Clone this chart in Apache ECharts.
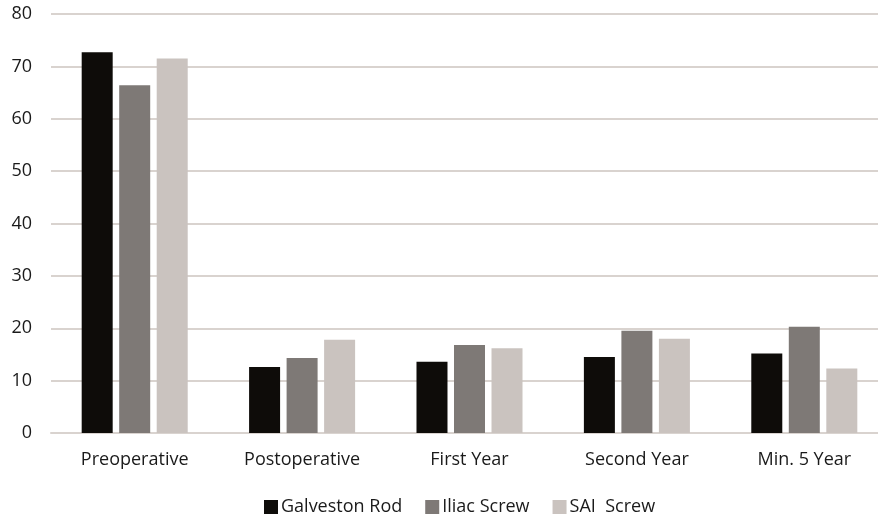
<!DOCTYPE html>
<html>
<head>
<meta charset="utf-8">
<script src="https://cdn.jsdelivr.net/npm/echarts@6/dist/echarts.min.js"></script>
<style>
  html, body { margin: 0; padding: 0; background: #ffffff; overflow: hidden; }
  #chart { width: 888px; height: 518px; }
</style>
</head>
<body>
<div id="chart"></div>
<script>
// Time points along the x axis
const categories = ['Preoperative', 'Postoperative', 'First Year', 'Second Year', 'Min. 5 Year'];

// Values per fixation group
const galvestonRod = [72.7, 12.6, 13.6, 14.5, 15.2];
const iliacScrew   = [66.4, 14.3, 16.8, 19.5, 20.3];
const saiScrew     = [71.5, 17.8, 16.2, 18.0, 12.3];

const seriesNames = ['Galveston Rod', 'Iliac Screw', 'SAI  Screw'];
const seriesColors = ['#0e0c09', '#7e7976', '#cac3bf'];

const FONT = '"Open Sans", "Liberation Sans", sans-serif';
const TEXT_COLOR = '#1a1a1a';

const chart = echarts.init(document.getElementById('chart'), null, { renderer: 'canvas' });

const dataSets = [galvestonRod, iliacScrew, saiScrew];

chart.setOption({
  animation: false,
  backgroundColor: '#ffffff',
  grid: { left: 51, top: 14, right: 0, bottom: 85, containLabel: false },
  legend: {
    top: 493,
    left: 259,
    itemWidth: 14,
    itemHeight: 14,
    itemGap: 23,
    icon: 'rect',
    textStyle: { fontFamily: FONT, fontSize: 18, color: TEXT_COLOR, padding: [0, 0, 0, -2] },
    data: seriesNames
  },
  xAxis: {
    type: 'category',
    data: categories,
    axisLine: { show: true, lineStyle: { color: '#d9d3cf', width: 2 } },
    axisTick: { show: false },
    axisLabel: { fontFamily: FONT, fontSize: 18, color: TEXT_COLOR, margin: 18 }
  },
  yAxis: {
    type: 'value',
    min: 0,
    max: 80,
    interval: 10,
    axisLine: { show: false },
    axisTick: { show: false },
    splitLine: { lineStyle: { color: '#d9d3cf', width: 2 } },
    axisLabel: { fontFamily: FONT, fontSize: 18, color: TEXT_COLOR, margin: 19 }
  },
  series: dataSets.map((d, i) => ({
    name: seriesNames[i],
    type: 'bar',
    data: d,
    barWidth: 31,
    barGap: '21%',
    itemStyle: { color: seriesColors[i] }
  }))
});
</script>
</body>
</html>
